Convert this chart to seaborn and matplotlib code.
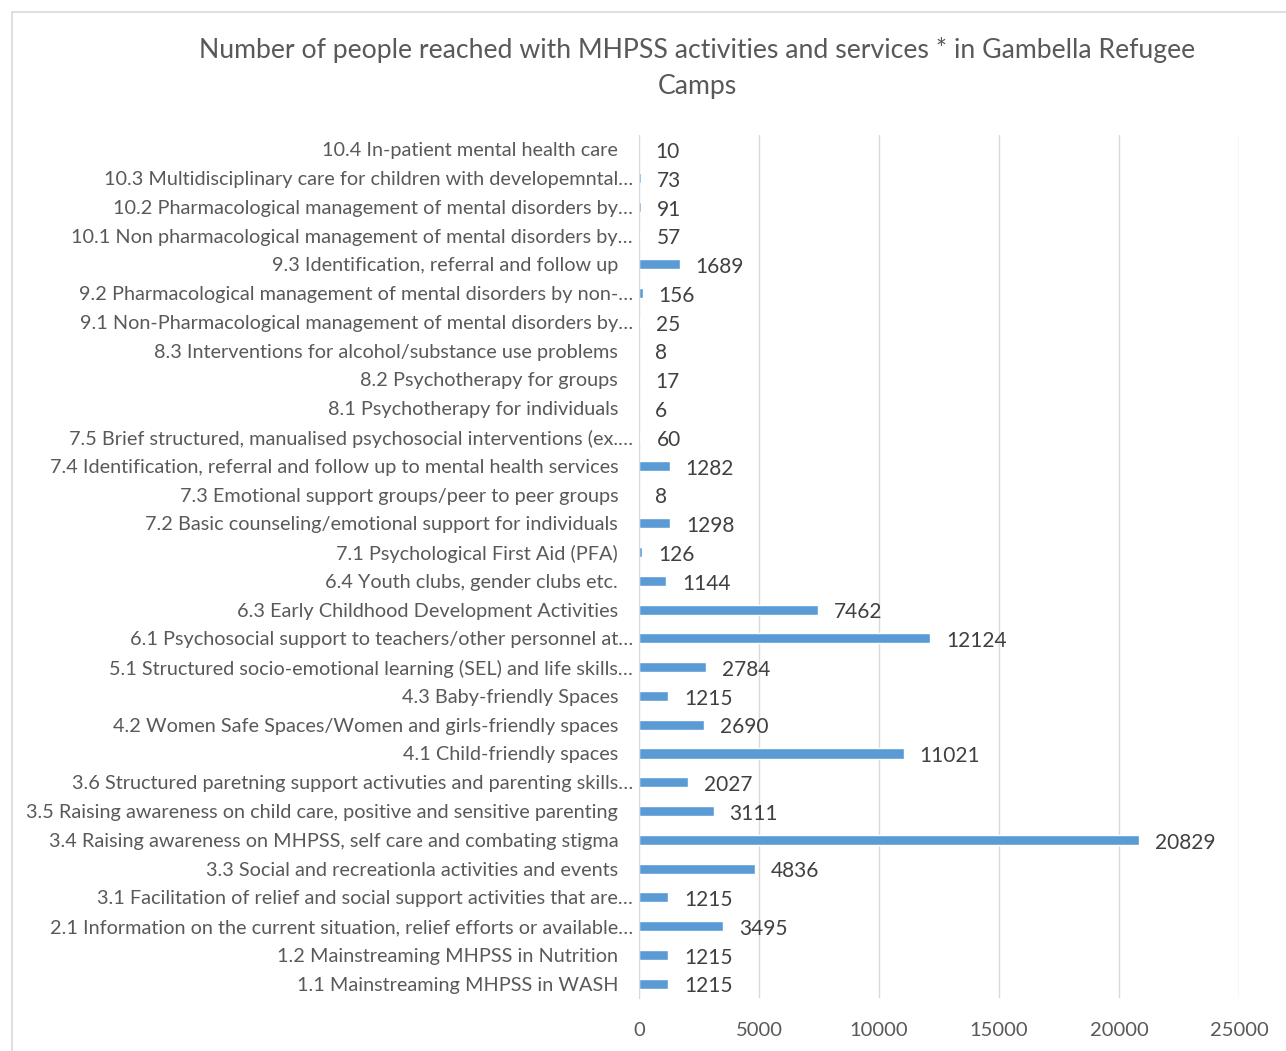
import matplotlib
matplotlib.use('Agg')
import matplotlib.pyplot as plt
import seaborn as sns
import pandas as pd
from matplotlib.patches import Rectangle

BAR_COLOR = '#5B9BD5'
TEXT_COLOR = '#595959'

activities = [
    '10.4 In-patient mental health care',
    '10.3 Multidisciplinary care for children with developemntal…',
    '10.2 Pharmacological management of mental disorders by…',
    '10.1 Non pharmacological management of mental disorders by…',
    '9.3 Identification, referral and follow up',
    '9.2 Pharmacological management of mental disorders by non-…',
    '9.1 Non-Pharmacological management of mental disorders by…',
    '8.3 Interventions for alcohol/substance use problems',
    '8.2 Psychotherapy for groups',
    '8.1 Psychotherapy for individuals',
    '7.5 Brief structured, manualised psychosocial interventions (ex.…',
    '7.4 Identification, referral and follow up to mental health services',
    '7.3 Emotional support groups/peer to peer groups',
    '7.2 Basic counseling/emotional support for individuals',
    '7.1 Psychological First Aid (PFA)',
    '6.4 Youth clubs, gender clubs etc.',
    '6.3 Early Childhood Development Activities',
    '6.1 Psychosocial support to teachers/other personnel at…',
    '5.1 Structured socio-emotional learning (SEL) and life skills…',
    '4.3 Baby-friendly Spaces',
    '4.2 Women Safe Spaces/Women and girls-friendly spaces',
    '4.1 Child-friendly spaces',
    '3.6 Structured paretning support activuties and parenting skills…',
    '3.5 Raising awareness on child care, positive and sensitive parenting',
    '3.4 Raising awareness on MHPSS, self care and combating stigma',
    '3.3 Social and recreationla activities and events',
    '3.1 Facilitation of relief and social support activities that are…',
    '2.1 Information on the current situation, relief efforts or available…',
    '1.2 Mainstreaming MHPSS in Nutrition',
    '1.1 Mainstreaming MHPSS in WASH',
]
people_reached = [10, 73, 91, 57, 1689, 156, 25, 8, 17, 6, 60, 1282, 8, 1298, 126,
                  1144, 7462, 12124, 2784, 1215, 2690, 11021, 2027, 3111, 20829,
                  4836, 1215, 3495, 1215, 1215]
x_ticks = [0, 5000, 10000, 15000, 20000, 25000]

df = pd.DataFrame({'activity': activities, 'people': people_reached})

sns.set_style('white')
plt.rcParams['font.family'] = ['Lato', 'DejaVu Sans']

fig = plt.figure(figsize=(12.86, 10.51), dpi=100)
ax = fig.add_axes([0.4969, 0.0504, 0.4666, 0.8212])

sns.barplot(data=df, x='people', y='activity', orient='h', color=BAR_COLOR,
            width=0.35, saturation=1, ax=ax)

labels = ax.bar_label(ax.containers[0], padding=11.5, fontsize=15, color='#404040')
for lab in labels:
    lab.xyann = (11.5, -2)

ax.set_xlim(0, 25000)
ax.set_xticks(x_ticks)
ax.xaxis.grid(True, color='#D9D9D9', linewidth=1)
ax.set_axisbelow(True)
ax.set_xlabel('')
ax.set_ylabel('')
for side in ['top', 'right', 'bottom']:
    ax.spines[side].set_visible(False)
ax.spines['left'].set_color('#D9D9D9')
ax.tick_params(axis='x', length=0, pad=17, labelsize=14.5, labelcolor=TEXT_COLOR)
ax.tick_params(axis='y', length=0, labelsize=14.3, labelcolor=TEXT_COLOR)

# Excel pushes truncated labels closer to the axis
for tick, name in zip(ax.yaxis.get_major_ticks(), activities):
    tick.set_pad(4.5 if name.endswith('…') else 15)

fig.text(0.542, 0.952, 'Number of people reached with MHPSS activities and services * in Gambella Refugee',
         ha='center', va='center', fontsize=19.2, color=TEXT_COLOR)
fig.text(0.542, 0.918, 'Camps', ha='center', va='center', fontsize=19.2, color=TEXT_COLOR)

fig.patches.append(Rectangle((12 / 1286, -0.1), 1.2, 1 - 12 / 1051 + 0.1,
                             transform=fig.transFigure, fill=False,
                             edgecolor='#D9D9D9', linewidth=1.2))

fig.savefig('out.png', dpi=100)
